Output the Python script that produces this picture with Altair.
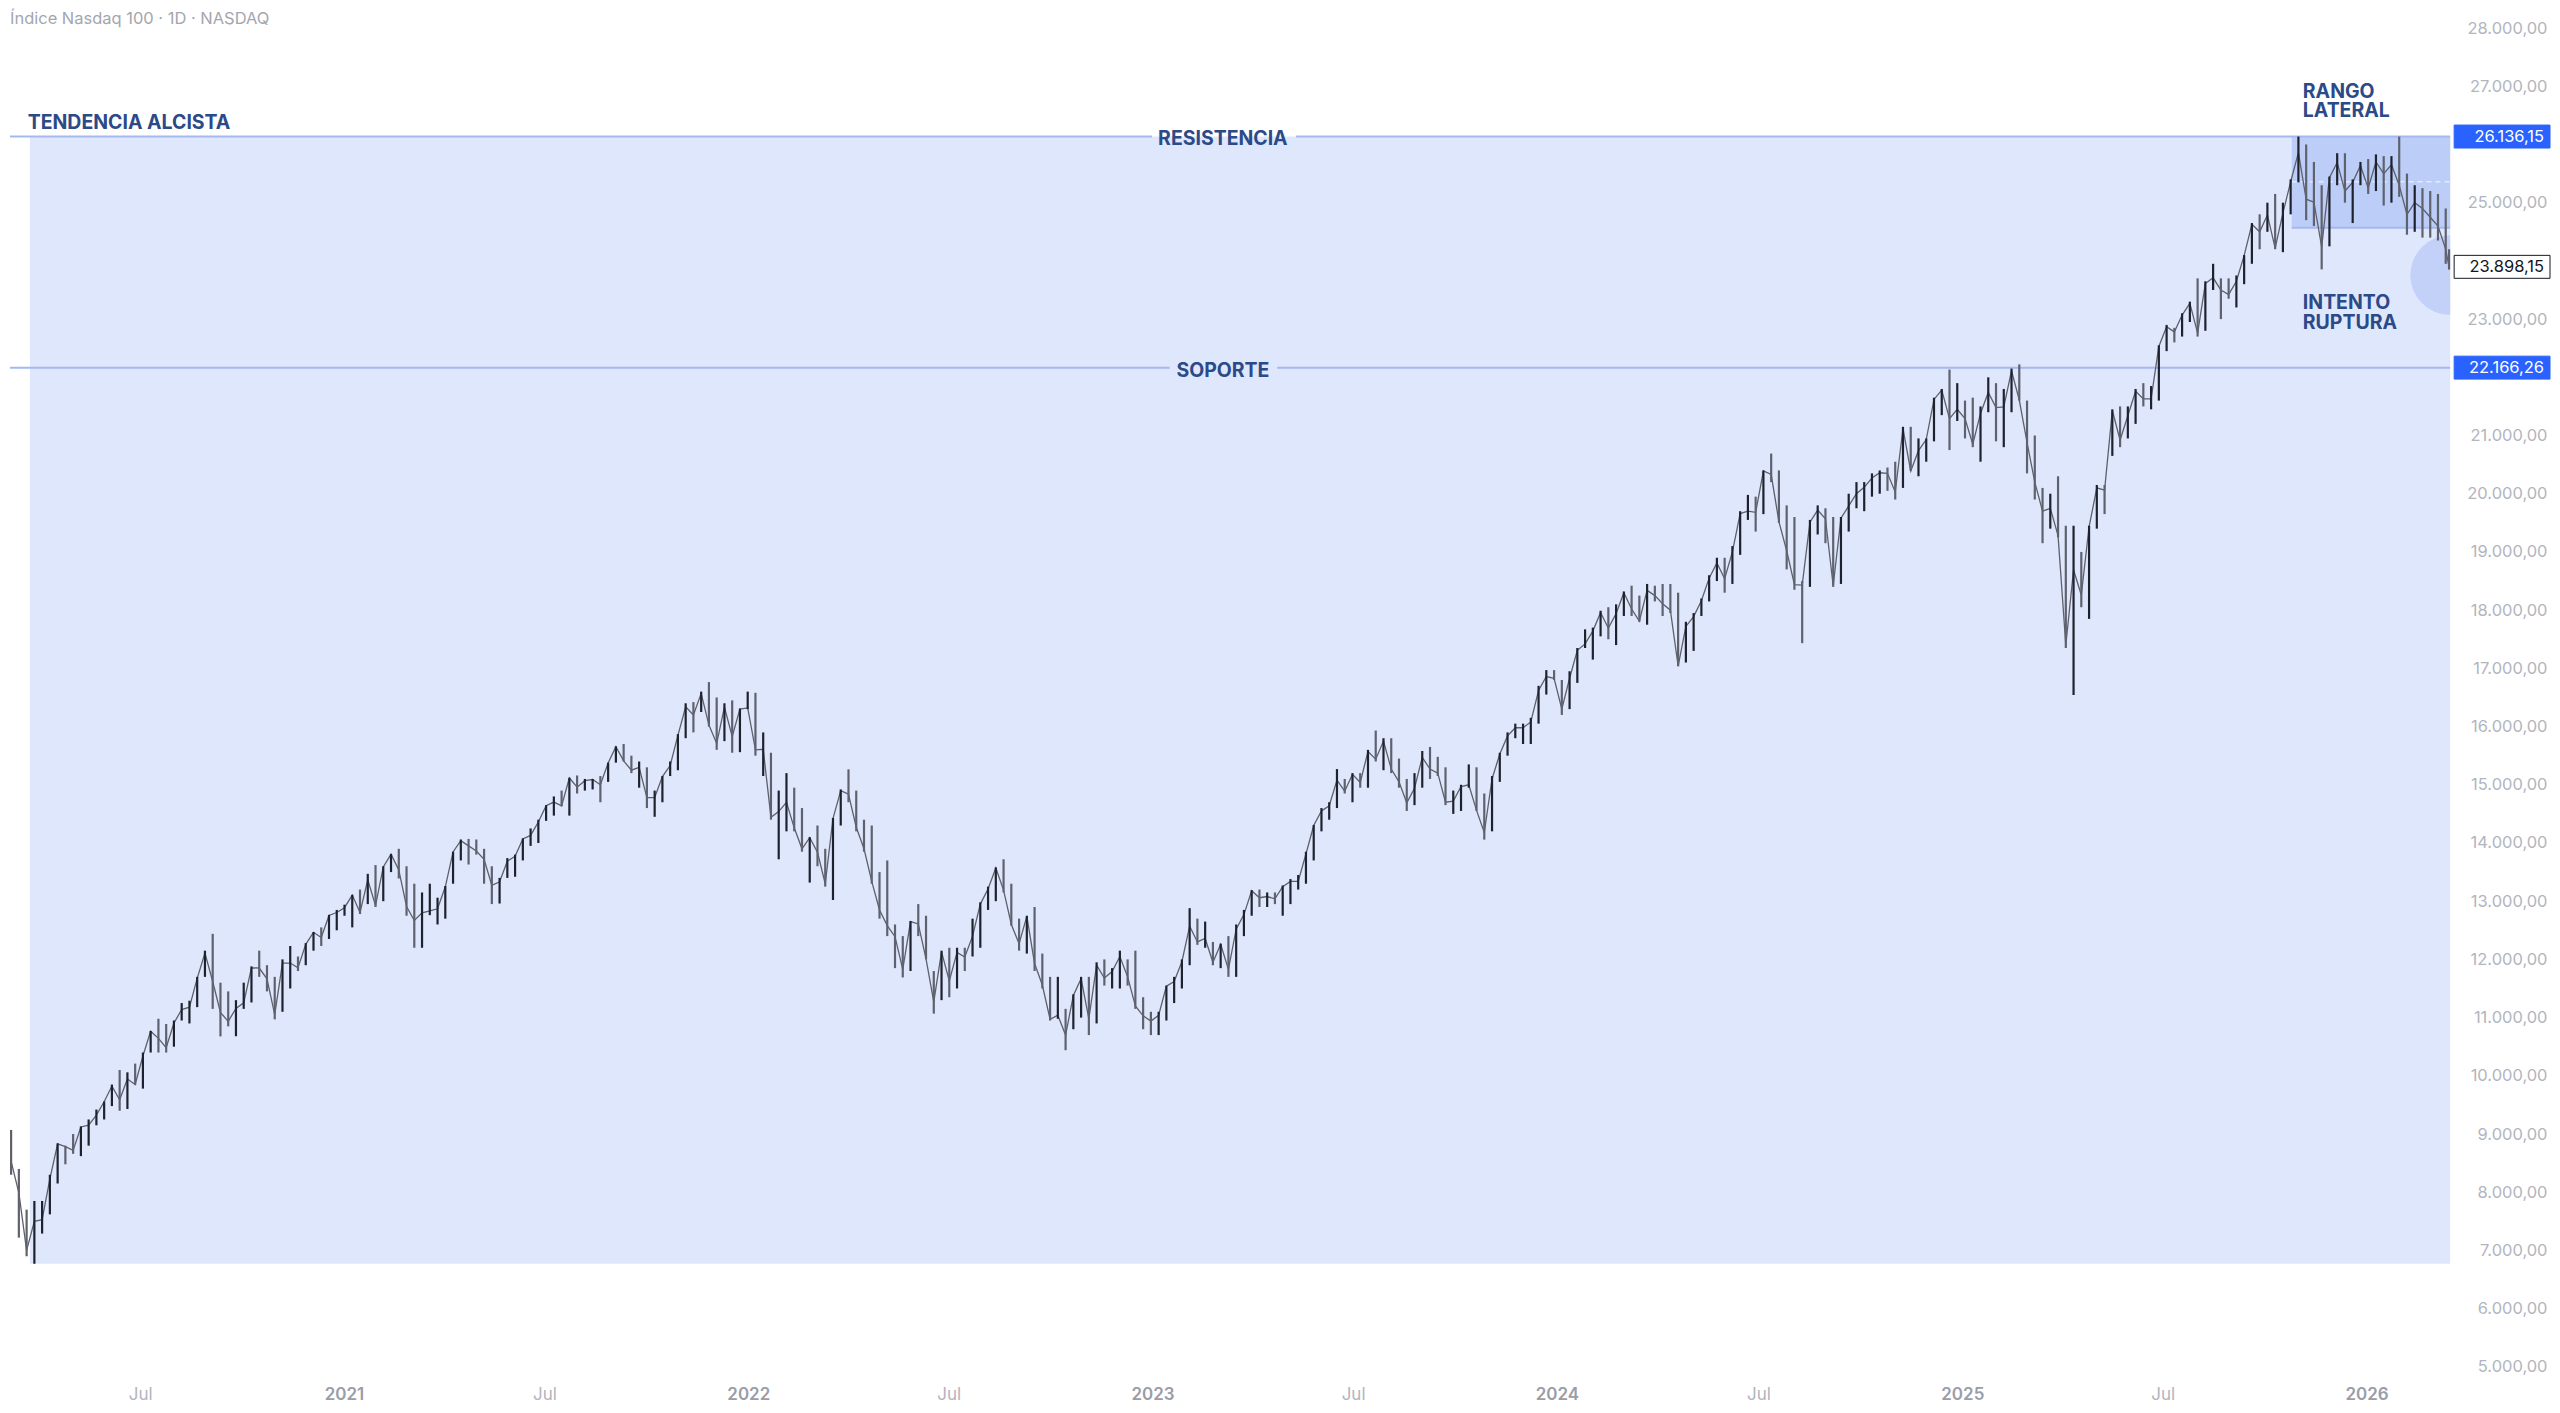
import altair as alt
import pandas as pd

# ---------------- data ----------------
TITLE = "Índice Nasdaq 100 · 1D · NASDAQ"
FIRST_FRIDAY = "2020-03-06"
LAST_BAR = "2026-03-16"
X_START = "2020-03-05"
X_END = "2026-03-17"
Y_MIN, Y_MAX = 4878.1, 28325.9

CLOSE_2020 = [8530, 7990, 7000, 7500, 7530, 8230, 8832, 8784, 8719, 9121, 9152, 9325, 9555, 9824, 9588,
              9946, 9850, 10341, 10767, 10643, 10485, 10905, 11139, 11178, 11675, 12110, 11620, 11088,
              10936, 11157, 11255, 11853, 11852, 11666, 11052, 11937, 11937, 11855, 12258, 12465, 12376,
              12755, 12805, 12888]
HIGH_2020 = [9070, 8400, 7700, 7850, 7850, 8300, 8840, 8800, 9000, 9130, 9250, 9420, 9560, 9850, 10100,
             10060, 10210, 10400, 10770, 10980, 10890, 10950, 11250, 11290, 11700, 12150, 12439, 11600,
             11450, 11300, 11600, 11880, 12150, 11900, 11700, 12000, 12230, 12050, 12280, 12470, 12550,
             12765, 12850, 12940]
LOW_2020 = [8300, 7220, 6900, 6771, 7290, 7620, 8150, 8480, 8660, 8620, 8800, 9150, 9250, 9480, 9400,
            9430, 9840, 9780, 10400, 10400, 10400, 10500, 10950, 10900, 11180, 11700, 11150, 10677,
            10850, 10680, 11150, 11260, 11700, 11450, 10970, 11100, 11500, 11800, 11900, 12150, 12230,
            12350, 12500, 12750]

CLOSE_2021 = [13105, 12804, 13367, 12925, 13588, 13808, 13536, 12909, 12668, 12800,
              12832, 12870, 13247, 13846, 14041, 13950, 13861, 13720, 13273, 13334,
              13686, 13773, 14069, 14130, 14360, 14640, 14703, 14637, 15117, 14959,
              15070, 15090, 15000, 15374, 15654, 15410, 15250, 15300, 14780, 14780,
              15140, 15330, 15850, 16340, 16200, 16570, 16025, 15710, 16335, 15830,
              16300, 16320]
HIGH_2021 = [13110, 13200, 13470, 13620, 13600, 13810, 13900, 13600, 13300, 13150,
             13300, 13060, 13260, 13850, 14060, 14070, 14060, 13900, 13600, 13400,
             13740, 13800, 14080, 14250, 14400, 14650, 14800, 14900, 15120, 15160,
             15100, 15100, 15150, 15380, 15660, 15700, 15500, 15400, 15300, 14900,
             15150, 15400, 15870, 16400, 16420, 16600, 16764, 16500, 16400, 16450,
             16310, 16600]
LOW_2021 = [12550, 12780, 12950, 12900, 13000, 13500, 13390, 12750, 12200, 12200,
            12760, 12600, 12700, 13300, 13700, 13630, 13800, 13300, 12950, 12960,
            13400, 13420, 13700, 13950, 14000, 14380, 14470, 14630, 14470, 14850,
            14900, 14920, 14700, 15050, 15380, 15400, 15200, 14950, 14600, 14450,
            14700, 15150, 15250, 15800, 15900, 16250, 16000, 15600, 15750, 15550,
            15560, 16300]

CLOSE_2022 = [15600, 15610, 14440, 14540, 14700, 14260, 13900, 14090, 13840, 13300,
              14420, 14900, 14840, 14270, 13900, 13340, 12850, 12580, 12390, 11830,
              12650, 12610, 12010, 11270, 12130, 11630, 12120, 12040, 12400, 12950,
              13210, 13570, 13190, 12600, 12270, 12740, 11930, 11560, 10970, 11040,
              10700, 11380, 11670, 10980, 11900, 11680, 11790, 12050, 11700, 11200,
              11030, 10940]
HIGH_2022 = [16580, 15900, 15550, 14900, 15200, 14950, 14600, 14100, 14300, 13900,
             14430, 14920, 15265, 14900, 14400, 14300, 13500, 13700, 12600, 12400,
             12660, 12950, 12750, 11800, 12150, 12200, 12200, 12200, 12700, 12980,
             13250, 13580, 13720, 13300, 12700, 12750, 12900, 12100, 11700, 11700,
             11150, 11400, 11700, 11700, 11950, 12000, 11850, 12150, 12000, 12150,
             11350, 11100]
LOW_2022 = [15500, 15150, 14400, 13720, 14200, 14200, 13850, 13320, 13600, 13250,
            13020, 14300, 14700, 14200, 13850, 13300, 12700, 12400, 11850, 11690,
            11800, 12400, 12000, 11068, 11300, 11350, 11500, 11800, 12050, 12200,
            12850, 13000, 13150, 12580, 12150, 12100, 11800, 11500, 10950, 10980,
            10440, 10800, 11000, 10700, 10900, 11550, 11500, 11500, 11550, 11150,
            10800, 10700]

CLOSE_2023 = [11040, 11540, 11620, 11960, 12570, 12300, 12360, 11950, 12260, 11830,
              12520, 12770, 13180, 13060, 13080, 13040, 13250, 13340, 13340, 13810,
              14300, 14550, 14640, 15080, 14890, 15180, 15040, 15570, 15440, 15750,
              15270, 15050, 14690, 14940, 15470, 15270, 15200, 14700, 14720, 14970,
              15000, 14560, 14180, 15100, 15530, 15840, 15980, 15980, 16080, 16620,
              16860, 16830]
HIGH_2023 = [11100, 11550, 11700, 12000, 12880, 12700, 12650, 12300, 12270, 12400,
             12600, 12850, 13190, 13200, 13150, 13150, 13270, 13380, 13450, 13850,
             14310, 14600, 14700, 15270, 15100, 15200, 15200, 15600, 15932, 15800,
             15800, 15450, 15100, 15200, 15580, 15650, 15480, 15300, 14900, 15000,
             15350, 15300, 14850, 15150, 15550, 15900, 16050, 16050, 16150, 16700,
             16970, 16970]
LOW_2023 = [10700, 10950, 11250, 11500, 11900, 12250, 12200, 11900, 11850, 11700,
            11700, 12400, 12750, 12900, 12900, 12950, 12750, 12950, 13200, 13300,
            13700, 14200, 14400, 14600, 14850, 14700, 14950, 14950, 15400, 15250,
            15200, 14950, 14550, 14650, 14950, 15100, 15150, 14650, 14500, 14550,
            14950, 14550, 14058, 14200, 15050, 15500, 15800, 15700, 15700, 16050,
            16550, 16800]

CLOSE_2024 = [16300, 16830, 17310, 17420, 17640, 17960, 17690, 17940, 18300, 18020,
              17810, 18340, 18250, 18110, 18000, 17040, 17720, 17890, 18160, 18550,
              18810, 18540, 19000, 19660, 19700, 19680, 20390, 20330, 19520, 19020,
              18440, 18430, 19510, 19720, 19570, 18420, 19580, 19790, 20000, 20110,
              20270, 20360, 20350, 20030, 21120, 20390, 20740, 20930, 21620, 21780,
              21290, 21450]
HIGH_2024 = [16800, 16950, 17350, 17670, 17700, 17990, 18050, 18100, 18320, 18420,
             18250, 18450, 18420, 18450, 18450, 18300, 17800, 17950, 18200, 18600,
             18900, 18900, 19100, 19700, 19980, 19950, 20400, 20690, 20400, 19800,
             19600, 18500, 19550, 19800, 19750, 19600, 19600, 20000, 20200, 20200,
             20350, 20400, 20450, 20550, 21150, 21150, 20950, 20950, 21650, 21800,
             22133, 21900]
LOW_2024 = [16200, 16300, 16750, 17350, 17150, 17550, 17500, 17400, 17900, 17900,
            17800, 17750, 18150, 17900, 17950, 17035, 17100, 17300, 17900, 18150,
            18500, 18300, 18450, 18950, 19550, 19350, 19650, 20200, 19500, 18700,
            18350, 17433, 18400, 19300, 19150, 18400, 18450, 19350, 19750, 19700,
            19950, 20000, 20050, 19900, 20100, 20390, 20300, 20550, 20900, 21350,
            20750, 21250]

CLOSE_2025 = [21290, 20850, 21380, 21740, 21480, 21490, 22110, 21610, 20880, 20200,
              19700, 19750, 19280, 17400, 18690, 18260, 19430, 20100, 20060, 21430,
              20920, 21340, 21760, 21630, 21630, 22530, 22870, 22780, 23070, 23270,
              22760, 23610, 23710, 23500, 23420, 23650, 24090, 24630, 24500, 24790,
              24220, 24820, 25360, 25860, 25060, 25010, 24240, 25430, 25690, 25200,
              25350, 25640]
HIGH_2025 = [21600, 21650, 21500, 22000, 21900, 21800, 22150, 22222, 21600, 21000,
             20100, 20000, 20300, 19450, 19450, 19000, 19450, 20150, 20150, 21450,
             21500, 21500, 21800, 21900, 21850, 22550, 22900, 22850, 23100, 23300,
             23700, 23650, 23950, 23700, 23700, 23750, 24100, 24650, 24800, 25000,
             25150, 25000, 25400, 26136, 26000, 25700, 25300, 25450, 25850, 25850,
             25400, 25700]
LOW_2025 = [20950, 20800, 20550, 21400, 20900, 20800, 21400, 21600, 20350, 19900,
            19150, 19400, 19250, 17350, 16542, 18050, 17850, 19400, 19650, 20650,
            20800, 20950, 21200, 21500, 21450, 21600, 22450, 22600, 22700, 22950,
            22700, 22800, 23500, 23000, 23350, 23200, 23600, 23950, 24200, 24500,
            24200, 24150, 24800, 25350, 24700, 24600, 23854, 24250, 25300, 25000,
            24650, 25300]

CLOSE_2026 = [25250, 25700, 25500, 25650, 25300, 24800, 25000, 24900, 24750, 24600, 24200, 23898.15]
HIGH_2026 = [25750, 25830, 25800, 25800, 26136, 25500, 25300, 25250, 25200, 25150, 24900, 24200]
LOW_2026 = [25150, 25200, 24950, 25000, 25100, 24450, 24500, 24400, 24400, 24350, 23950, 23850]

# levels and drawings
RESISTANCE = 26136.15
SUPPORT = 22166.26
LAST_PRICE = 23898.15
TREND_START = "2020-03-23"
TREND_LOW = 6771
RANGE_START = "2025-10-25"
RANGE_LOW = 24570
RANGE_MID = 25358
BREAK_VALUE = 23755
RES_GAP = ("2022-12-31", "2023-05-10")
SUP_GAP = ("2023-01-16", "2023-04-23")

ANNOT_LEFT = [("TENDENCIA ALCISTA", "2020-03-21", 26268),
              ("RANGO", "2025-11-04", 26799), ("LATERAL", "2025-11-04", 26473),
              ("INTENTO", "2025-11-04", 23180), ("RUPTURA", "2025-11-04", 22837)]
ANNOT_CENTER = [("RESISTENCIA", "2023-03-05", 25993), ("SOPORTE", "2023-03-05", 22014)]

X_TICK_DATES = ["2020-07-01", "2021-01-01", "2021-07-01", "2022-01-01", "2022-07-01", "2023-01-01",
                "2023-07-01", "2024-01-01", "2024-07-01", "2025-01-01", "2025-07-01", "2026-01-01"]
X_TICK_LABELS = ["Jul", "2021", "Jul", "2022", "Jul", "2023", "Jul", "2024", "Jul", "2025", "Jul", "2026"]
# price-axis ticks (22k, 24k and 26k sit under the price tags, as in the reference)
Y_TICKS = [5000, 6000, 7000, 8000, 9000, 10000, 11000, 12000, 13000, 14000, 15000, 16000, 17000,
           18000, 19000, 20000, 21000, 23000, 25000, 27000, 28000]
Y_TICK_LABELS = [f"{v:,.2f}".replace(",", "_").replace(".", ",").replace("_", ".") for v in Y_TICKS]

PRICE_TAGS = [("26.136,15", RESISTANCE, "#2962ff", "#2962ff", "#ffffff"),
              ("22.166,26", SUPPORT, "#2962ff", "#2962ff", "#ffffff"),
              ("23.898,15", LAST_PRICE, "#ffffff", "#131722", "#131722")]

# ---------------- build ----------------
W, H = 2444, 1367


def ms(d):
    return int(pd.Timestamp(d).tz_localize(None).tz_localize("UTC").value // 10**6)


closes = CLOSE_2020 + CLOSE_2021 + CLOSE_2022 + CLOSE_2023 + CLOSE_2024 + CLOSE_2025 + CLOSE_2026
highs = HIGH_2020 + HIGH_2021 + HIGH_2022 + HIGH_2023 + HIGH_2024 + HIGH_2025 + HIGH_2026
lows = LOW_2020 + LOW_2021 + LOW_2022 + LOW_2023 + LOW_2024 + LOW_2025 + LOW_2026
dates = list(pd.date_range(FIRST_FRIDAY, periods=len(closes) - 1, freq="7D")) + [pd.Timestamp(LAST_BAR)]
dirs = ["down"] + ["up" if closes[i] >= closes[i - 1] else "down" for i in range(1, len(closes))]

price = pd.DataFrame({"t": [ms(d) for d in dates], "v": closes, "hi": highs, "lo": lows, "dir": dirs})


def nested(values, labels):
    expr = "''"
    for val, lab in reversed(list(zip(values, labels))):
        expr = f"datum.value == {val} ? '{lab}' : ({expr})"
    return expr


XSCALE = alt.Scale(type="utc", domain=[ms(X_START), ms(X_END)])
YSCALE = alt.Scale(domain=[Y_MIN, Y_MAX], zero=False, nice=False)
XAXIS = alt.Axis(labels=False, grid=False, domain=False, ticks=False, tickSize=0)
YAXIS = alt.Axis(orient="right", values=Y_TICKS, labelExpr=nested(Y_TICKS, Y_TICK_LABELS), grid=False,
                 domain=False, ticks=False, tickSize=0, labelPadding=97, labelAlign="right",
                 labelBaseline="middle", labelFontSize=16.5, labelFont="Inter", labelColor="#b2b5be",
                 labelOverlap=False, labelFlush=False)


def X(f="t"):
    return alt.X(f"{f}:T", scale=XSCALE, axis=XAXIS, title=None)


def Y(f="v"):
    return alt.Y(f"{f}:Q", scale=YSCALE, axis=YAXIS, title=None)


rects = pd.DataFrame({"t": [ms(TREND_START), ms(RANGE_START)], "t2": [ms(X_END), ms(X_END)],
                      "v": [TREND_LOW, RANGE_LOW], "v2": [RESISTANCE, RESISTANCE],
                      "c": ["#dfe7fd", "#bccdf7"]})
rect_layer = alt.Chart(rects).mark_rect().encode(
    x=X(), x2="t2:T", y=Y(), y2="v2:Q", color=alt.Color("c:N", scale=None))

circle_layer = alt.Chart(pd.DataFrame({"t": [ms(X_END)], "v": [BREAK_VALUE]})).mark_point(
    filled=True, clip=True, shape="circle", size=6362, color="#c3d1f8", opacity=1).encode(x=X(), y=Y())

segs = pd.DataFrame({
    "t": [ms(X_START), ms(RES_GAP[1]), ms(X_START), ms(SUP_GAP[1]), ms(RANGE_START)],
    "t2": [ms(RES_GAP[0]), ms(X_END), ms(SUP_GAP[0]), ms(X_END), ms(X_END)],
    "v": [RESISTANCE, RESISTANCE, SUPPORT, SUPPORT, RANGE_LOW]})
line_layer = alt.Chart(segs).mark_rule(color="#a3b9f0", strokeWidth=2).encode(x=X(), x2="t2:T", y=Y())

mid_layer = alt.Chart(pd.DataFrame({"t": [ms(RANGE_START)], "t2": [ms(X_END)], "v": [RANGE_MID]})).mark_rule(
    color="#ffffff", strokeWidth=1, strokeDash=[5, 4], opacity=0.9).encode(x=X(), x2="t2:T", y=Y())

close_layer = alt.Chart(price).mark_line(color="#5d606b", strokeWidth=1.3).encode(x=X(), y=Y())
bars_layer = alt.Chart(price).mark_rule(strokeWidth=2.2).encode(
    x=X(), y=Y("lo"), y2="hi:Q",
    color=alt.Color("dir:N", scale=alt.Scale(domain=["up", "down"], range=["#1e222d", "#5f626d"]), legend=None))

ann_l = pd.DataFrame({"txt": [a[0] for a in ANNOT_LEFT], "t": [ms(a[1]) for a in ANNOT_LEFT],
                      "v": [a[2] for a in ANNOT_LEFT]})
ann_c = pd.DataFrame({"txt": [a[0] for a in ANNOT_CENTER], "t": [ms(a[1]) for a in ANNOT_CENTER],
                      "v": [a[2] for a in ANNOT_CENTER]})
text_style = dict(font="Inter", fontWeight=700, fontSize=19.5, color="#2b4a87", baseline="alphabetic")
annl_layer = alt.Chart(ann_l).mark_text(align="left", **text_style).encode(x=X(), y=Y(), text="txt:N")
annc_layer = alt.Chart(ann_c).mark_text(align="center", **text_style).encode(x=X(), y=Y(), text="txt:N")

title_layer = alt.Chart(pd.DataFrame({"txt": [TITLE]})).mark_text(
    align="left", baseline="alphabetic", font="Inter", fontSize=16.5, color="#a3a6af").encode(
    x=alt.value(0), y=alt.value(15), text="txt:N")

xt = pd.DataFrame({"t": [ms(d) for d in X_TICK_DATES], "lab": X_TICK_LABELS})
xt_year = alt.Chart(xt[xt["lab"] != "Jul"]).mark_text(
    baseline="middle", font="Inter", fontSize=17, fontWeight=600, color="#9a9da6").encode(
    x=X(), y=alt.value(H + 21), text="lab:N")
xt_month = alt.Chart(xt[xt["lab"] == "Jul"]).mark_text(
    baseline="middle", font="Inter", fontSize=17, fontWeight=400, color="#b2b5be").encode(
    x=X(), y=alt.value(H + 21), text="lab:N")

tags = pd.DataFrame({"lab": [p[0] for p in PRICE_TAGS], "v": [p[1] for p in PRICE_TAGS],
                     "fill": [p[2] for p in PRICE_TAGS], "stroke": [p[3] for p in PRICE_TAGS],
                     "tc": [p[4] for p in PRICE_TAGS]})
BOX = "M-1,-0.2396L1,-0.2396L1,0.2396L-1,0.2396Z"
tag_box = alt.Chart(tags).mark_point(shape=BOX, size=9216, filled=True, opacity=1, strokeWidth=1).encode(
    x=alt.value(W + 52), y=Y(), fill=alt.Fill("fill:N", scale=None), stroke=alt.Stroke("stroke:N", scale=None))
tag_txt = alt.Chart(tags).mark_text(align="right", baseline="middle", font="Inter", fontSize=16.5).encode(
    x=alt.value(W + 94), y=Y(), text="lab:N", color=alt.Color("tc:N", scale=None))

chart = alt.layer(rect_layer, circle_layer, line_layer, mid_layer, close_layer, bars_layer,
                  annl_layer, annc_layer, title_layer, xt_year, xt_month, tag_box, tag_txt).properties(
    width=W, height=H, padding=0, background="#ffffff").configure_view(strokeWidth=0)

chart.save("out.html", embed_options={"renderer": "svg", "actions": False})
